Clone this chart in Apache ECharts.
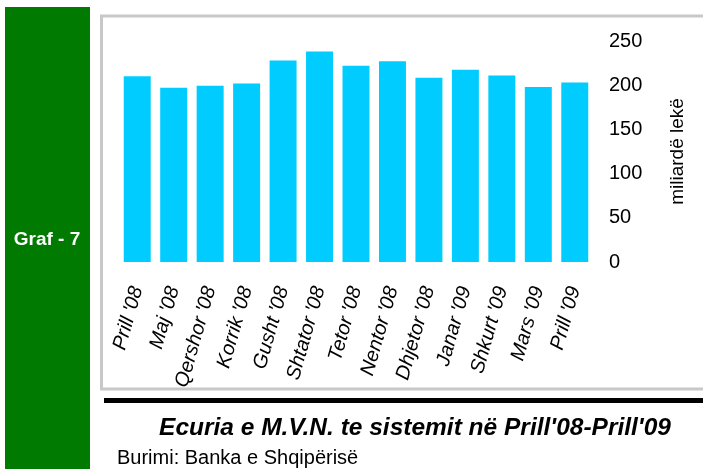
<!DOCTYPE html>
<html>
<head>
<meta charset="utf-8">
<script src="https://cdn.jsdelivr.net/npm/echarts@6/dist/echarts.min.js"></script>
<style>
  html, body { margin: 0; padding: 0; background: #fff; }
  #chart { width: 703px; height: 469px; }
</style>
</head>
<body>
<div id="chart"></div>
<script>
var months = ["Prill '08", "Maj '08", "Qershor '08", "Korrik '08", "Gusht '08", "Shtator '08",
  "Tetor '08", "Nentor '08", "Dhjetor '08", "Janar '09", "Shkurt '09", "Mars '09", "Prill '09"];
var mvn = [210, 197, 199.5, 202, 228, 238, 222, 227, 208.5, 217.5, 211, 198, 203];
var yTicks = [0, 50, 100, 150, 200, 250];

var chart = echarts.init(document.getElementById('chart'), null, { renderer: 'canvas' });

var option = {
  animation: false,
  textStyle: { fontFamily: 'Liberation Sans, Arial, sans-serif' },
  graphic: [
    // green side band
    { type: 'rect', shape: { x: 5, y: 7, width: 85, height: 462 }, style: { fill: '#007a00' } },
    { type: 'text', x: 47, y: 240, style: {
        text: 'Graf - 7', fill: '#fff', font: 'bold 19px Liberation Sans, Arial',
        align: 'center', verticalAlign: 'middle' } },
    // chart frame
    { type: 'rect', shape: { x: 101.5, y: 16, width: 620, height: 373 },
      style: { fill: 'none', stroke: '#c8c8c8', lineWidth: 3 } },
    // black rule
    { type: 'rect', shape: { x: 104, y: 398, width: 610, height: 5 }, style: { fill: '#000' } },
    { type: 'text', x: 415, y: 428, style: {
        text: "Ecuria e M.V.N. te sistemit në Prill'08-Prill'09", fill: '#000',
        font: 'italic bold 24.5px Liberation Sans, Arial', align: 'center', verticalAlign: 'middle' } },
    { type: 'text', x: 117, y: 458, style: {
        text: 'Burimi: Banka e Shqipërisë', fill: '#000',
        font: '20px Liberation Sans, Arial', align: 'left', verticalAlign: 'middle' } }
  ],
  grid: { left: 119, width: 474, top: 41, height: 221 },
  xAxis: {
    type: 'category',
    data: months,
    axisLine: { show: false },
    axisTick: { show: false },
    axisLabel: {
      interval: 0, rotate: 74, margin: 25,
      fontSize: 20, fontStyle: 'italic', color: '#000'
    }
  },
  yAxis: {
    type: 'value',
    position: 'right',
    min: yTicks[0], max: yTicks[yTicks.length - 1], interval: 50,
    splitLine: { show: false },
    axisLine: { show: false },
    axisTick: { show: false },
    axisLabel: { margin: 16, fontSize: 20, color: '#000' },
    name: 'miliardë lekë',
    nameLocation: 'middle',
    nameRotate: 90,
    nameGap: 75,
    nameTextStyle: { fontSize: 19, color: '#000' }
  },
  series: [{
    type: 'bar',
    data: mvn,
    barCategoryGap: '26%',
    itemStyle: { color: '#00ccff' }
  }]
};

chart.setOption(option);
</script>
</body>
</html>
